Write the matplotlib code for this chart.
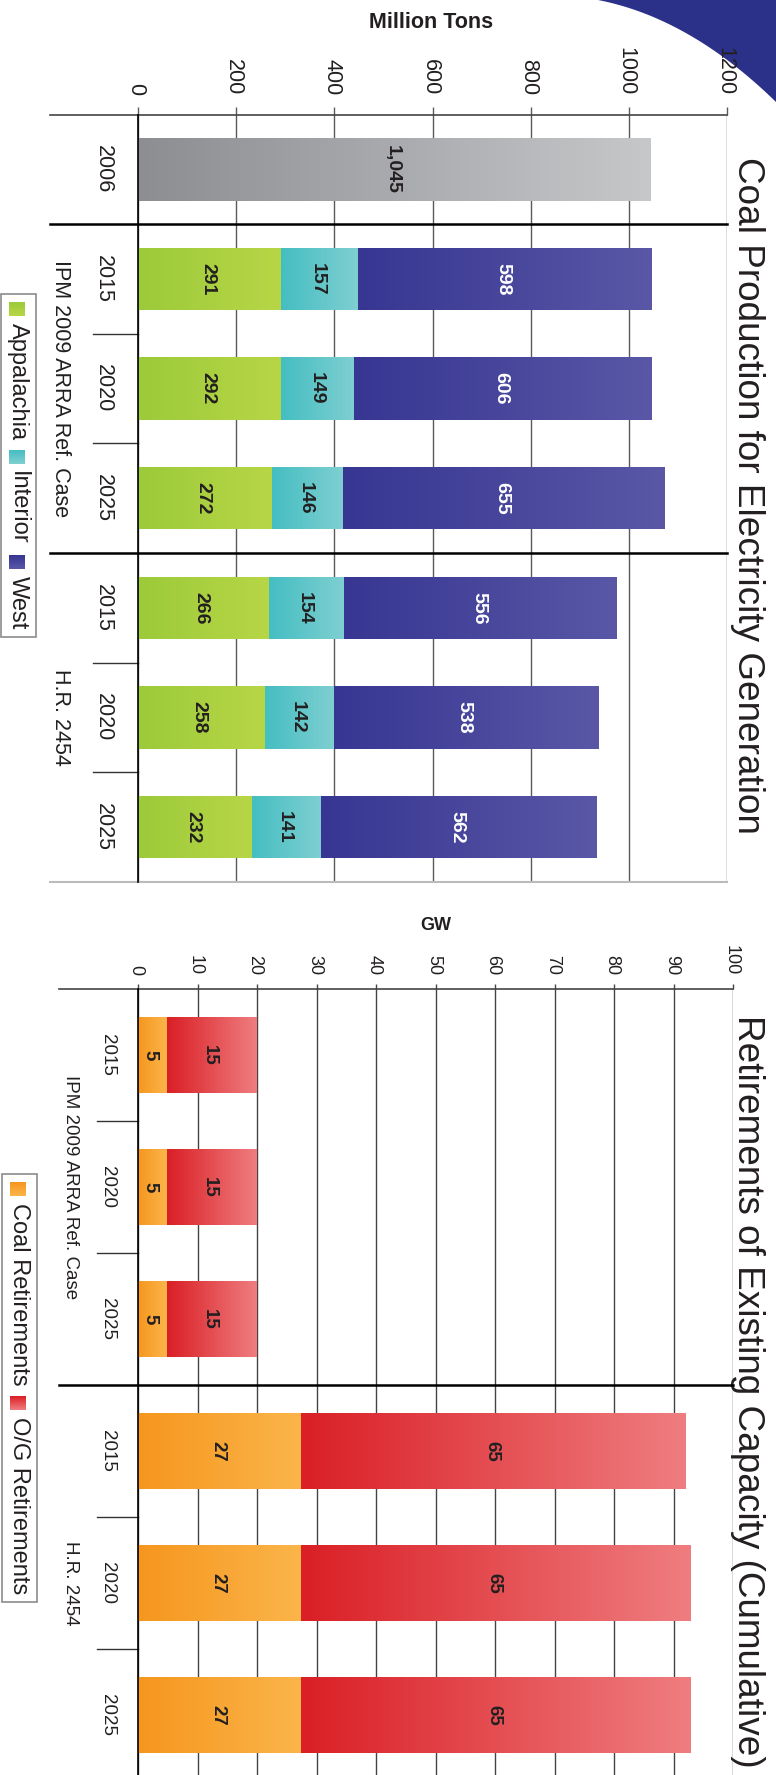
import numpy as np
import matplotlib.pyplot as plt
from matplotlib.colors import LinearSegmentedColormap
from matplotlib.patches import Rectangle, Polygon

plt.rcParams["font.family"] = ["Liberation Sans", "DejaVu Sans"]

# ============================================================
# DATA
# ============================================================
hist_years = ["2006"]
hist_total = [1045]
proj_years = ["2015", "2020", "2025", "2015", "2020", "2025"]
appalachia = [291, 292, 272, 266, 258, 232]
interior = [157, 149, 146, 154, 142, 141]
west = [598, 606, 655, 556, 538, 562]
prod_ticks = [0, 200, 400, 600, 800, 1000, 1200]

ret_years = ["2015", "2020", "2025", "2015", "2020", "2025"]
coal_ret = [4.8, 4.8, 4.8, 27.4, 27.4, 27.4]
og_ret = [15.1, 15.1, 15.1, 64.7, 65.4, 65.4]
ret_ticks = [0, 10, 20, 30, 40, 50, 60, 70, 80, 90, 100]

scenarios = ["IPM 2009 ARRA Ref. Case", "H.R. 2454"]

# colours: (dark end, light end) of each gradient
C_HIST = ("#8d8e92", "#c6c7c9")
C_APP = ("#9cca3a", "#b7d646")
C_INT = ("#45bec2", "#7fcfd1")
C_WEST = ("#373692", "#5957a6")
C_COAL = ("#f6961e", "#fbb54a")
C_OG = ("#da1f26", "#ef7d7f")
NAVY = "#2b3189"
TXT = "#231f20"
NARROW = ["Liberation Sans Narrow", "Liberation Sans"]

# ============================================================
# FIGURE / AXES (positions given in image pixels, y downward)
# ============================================================
W, H = 776, 1775
fig = plt.figure(figsize=(W / 100, H / 100), dpi=100)


def px_axes(x0, x1, y0, y1):
    a = fig.add_axes([x0 / W, 1 - y1 / H, (x1 - x0) / W, (y1 - y0) / H], zorder=1)
    a.patch.set_alpha(0)
    return a


ov = fig.add_axes([0, 0, 1, 1], zorder=0)
ov.set_xlim(0, W)
ov.set_ylim(H, 0)
ov.axis("off")

ax1 = px_axes(138, 727, 114.5, 882)
ax2 = px_axes(138, 733, 989, 1781)


def gradient_fill(ax, patch, colors, vertical=False):
    cmap = LinearSegmentedColormap.from_list("g", colors)
    x0, y0 = patch.get_x(), patch.get_y()
    w, h = patch.get_width(), patch.get_height()
    arr = np.linspace(0, 1, 128)[None, :]
    im = ax.imshow(arr, cmap=cmap, aspect="auto", interpolation="bilinear",
                   extent=(x0, x0 + w, y0 + h, y0), zorder=1.5)
    im.set_clip_path(patch)
    patch.set_facecolor("none")
    patch.set_edgecolor("none")


def seg_label(ax, bar, text, color, fs):
    ax.text(bar.get_x() + bar.get_width() / 2, bar.get_y() + bar.get_height() / 2, text,
            rotation=-90, rotation_mode="anchor", ha="center", va="center_baseline",
            fontsize=fs, fontweight="bold", family=NARROW, color=color, zorder=3)


def dress(ax, labels, groups, ticks, xmax, tick_len, pad, tick_fs, cat_fs,
          line_left, cat_x, grp_x, grp_names, sep_x, grid_col, bottom_line):
    n = len(labels)
    ax.set_xlim(0, xmax)
    ax.set_ylim(n - 0.5, -0.5)
    for s in ["top", "right", "bottom"]:
        ax.spines[s].set_visible(False)
    ax.spines["left"].set_color("black")
    ax.spines["left"].set_linewidth(1.2)
    ax.xaxis.tick_top()
    ax.tick_params(axis="x", length=tick_len, width=1, color=grid_col, pad=pad)
    ax.set_xticks(ticks, [str(t) for t in ticks], rotation=-90, rotation_mode="anchor",
                  ha="right", va="center_baseline", fontsize=tick_fs, color=TXT)
    ax.set_yticks([])
    ax.grid(axis="x", color=grid_col, lw=1)
    ax.set_axisbelow(True)
    yx = ax.get_yaxis_transform()
    # top axis line, running left into the label area
    ax.plot([line_left, 1], [1, 1], transform=ax.transAxes, color="#444444", lw=1.2, clip_on=False)
    if bottom_line:
        ax.plot([line_left, 1], [0, 0], transform=ax.transAxes, color="#bbbbbb", lw=1.5, clip_on=False)
    # category labels
    for i, lab in enumerate(labels):
        ax.text(cat_x, i, lab, transform=yx, rotation=-90, rotation_mode="anchor",
                ha="center", va="center_baseline", fontsize=cat_fs, color=TXT)
    # group dividers, small separators, group names
    start = 0
    bounds = np.cumsum(groups)
    for gi, g in enumerate(groups):
        end = start + g
        if end < n:
            ax.plot([line_left, 1], [end - 0.5, end - 0.5], transform=yx, color="black",
                    lw=1.8, clip_on=False, zorder=2.5)
        for k in range(start + 1, end):
            ax.plot([sep_x, 0], [k - 0.5, k - 0.5], transform=yx, color="#333333",
                    lw=1, clip_on=False)
        if grp_names[gi]:
            ax.text(grp_x, (start + end - 1) / 2, grp_names[gi], transform=yx, rotation=-90,
                    rotation_mode="anchor", ha="center", va="center_baseline",
                    fontsize=cat_fs, color=TXT)
        start = end


# ============================================================
# TOP PANEL: coal production
# ============================================================
labels1 = hist_years + proj_years
dress(ax1, labels1, [1, 3, 3], prod_ticks, 1200, 5.8, 8.3, 15.5, 15.5,
      -0.149, -0.054, -0.127, [None] + scenarios, -0.076, "#5a5a5a", True)

bar_h = 0.57
y1 = np.arange(len(labels1))
hb = ax1.barh(y1[:1], hist_total, height=bar_h)
for b, v in zip(hb, hist_total):
    gradient_fill(ax1, b, C_HIST)
    seg_label(ax1, b, f"{v:,}", TXT, 14)

left = np.zeros(len(proj_years))
for vals, cols, tc in [(appalachia, C_APP, TXT), (interior, C_INT, TXT), (west, C_WEST, "white")]:
    bars = ax1.barh(y1[1:], vals, height=bar_h, left=left)
    for b, v in zip(bars, vals):
        gradient_fill(ax1, b, cols)
        seg_label(ax1, b, f"{v:,}", tc, 14)
    left += np.array(vals)

# ============================================================
# BOTTOM PANEL: retirements
# ============================================================
dress(ax2, ret_years, [3, 3], ret_ticks, 100, 3.6, 6.5, 13, 13.5,
      -0.133, -0.048, -0.110, scenarios, -0.069, "#444444", False)

y2 = np.arange(len(ret_years))
left = np.zeros(len(ret_years))
for vals, cols in [(coal_ret, C_COAL), (og_ret, C_OG)]:
    bars = ax2.barh(y2, vals, height=bar_h, left=left)
    for b, v in zip(bars, vals):
        gradient_fill(ax2, b, cols)
        seg_label(ax2, b, f"{v:.0f}", TXT, 13.5)
    left += np.array(vals)

# ============================================================
# TITLES, UNITS, LEGENDS, DECORATION
# ============================================================
t = np.linspace(0, 1, 60)
p0, pc, p2 = np.array([598, 0]), np.array([690, 18]), np.array([776, 102])
curve = ((1 - t) ** 2)[:, None] * p0 + (2 * (1 - t) * t)[:, None] * pc + (t ** 2)[:, None] * p2
ov.add_patch(Polygon(np.vstack([curve, [[776, 0]]]), closed=True, fc=NAVY, ec="none"))

ov.text(738, 495, "Coal Production for Electricity Generation", rotation=-90,
        rotation_mode="anchor", ha="center", va="baseline", fontsize=26.6, color=TXT)
ov.text(738, 1391, "Retirements of Existing Capacity (Cumulative)", rotation=-90,
        rotation_mode="anchor", ha="center", va="baseline", fontsize=26.6, color=TXT)
ov.text(431, 22, "Million Tons", ha="center", va="center", fontsize=15.5,
        fontweight="bold", color=TXT)
ov.text(436, 925, "GW", ha="center", va="center", fontsize=13, fontweight="bold", color=TXT)

renderer = fig.canvas.get_renderer()


def legend(x0, y0, names, colors, fs):
    y = y0 + 8
    for name, cols in zip(names, colors):
        cm = LinearSegmentedColormap.from_list("g", cols)
        ov.imshow(np.linspace(0, 1, 32)[:, None], cmap=cm, aspect="auto",
                  extent=(x0 + 8, x0 + 24, y + 14, y), zorder=2)
        y += 14 + 7
        txt = ov.text(x0 + 11, y, name, rotation=-90, rotation_mode="anchor", ha="left",
                      va="baseline", fontsize=fs, color=TXT)
        y += txt.get_window_extent(renderer).height + 10
    ov.add_patch(Rectangle((x0, y0), 35, y - y0 - 2, fill=False, ec="#8c8c8c", lw=1.2))


legend(1, 294, ["Appalachia", "Interior", "West"], [C_APP, C_INT, C_WEST], 17)
legend(2, 1174, ["Coal Retirements", "O/G Retirements"], [C_COAL, C_OG], 17)

fig.savefig("out.png", dpi=100)
